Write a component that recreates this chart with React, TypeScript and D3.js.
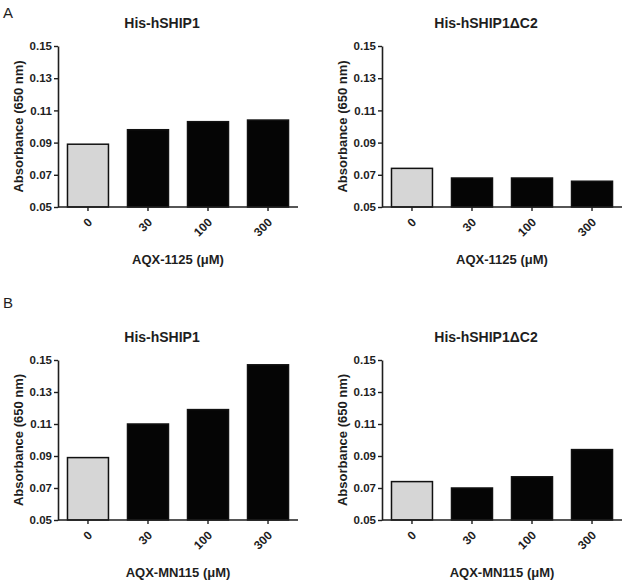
import * as d3 from 'd3';
import { useEffect, useRef } from 'react';

const doses = ['0', '30', '100', '300'];
const yTicks = [0.05, 0.07, 0.09, 0.11, 0.13, 0.15];

// absorbance at 650 nm
const aqx1125Full = [0.089, 0.098, 0.103, 0.104];
const aqx1125DeltaC2 = [0.074, 0.068, 0.068, 0.066];
const mn115Full = [0.089, 0.110, 0.119, 0.147];
const mn115DeltaC2 = [0.074, 0.070, 0.077, 0.094];

const titleFull = 'His-hSHIP1';
const titleDelta = 'His-hSHIP1\u0394C2';
const yLabel = 'Absorbance (650 nm)';
const xLabelA = 'AQX-1125 (\u03bcM)';
const xLabelB = 'AQX-MN115 (\u03bcM)';

const W = 629;
const H = 585;
const FONT = '"Liberation Sans", Arial, sans-serif';
const INK = '#1e1e1e';

const panels = [
    { x0: 58, top: 46, bottom: 207, values: aqx1125Full, title: titleFull, xLabel: xLabelA },
    { x0: 382, top: 46, bottom: 207, values: aqx1125DeltaC2, title: titleDelta, xLabel: xLabelA },
    { x0: 58, top: 360, bottom: 520, values: mn115Full, title: titleFull, xLabel: xLabelB },
    { x0: 382, top: 360, bottom: 520, values: mn115DeltaC2, title: titleDelta, xLabel: xLabelB },
];

export default function App() {
    const svgRef = useRef(null);

    useEffect(() => {
        if (!svgRef.current) {
            return;
        }
        const svg = d3.select(svgRef.current);
        svg.selectAll('*').remove();
        svg.append('rect').attr('width', W).attr('height', H).attr('fill', '#fff');

        svg.append('text')
            .attr('x', 3)
            .attr('y', 18)
            .attr('font-family', FONT)
            .attr('font-size', '15px')
            .attr('fill', INK)
            .text('A');
        svg.append('text')
            .attr('x', 3)
            .attr('y', 308)
            .attr('font-family', FONT)
            .attr('font-size', '15px')
            .attr('fill', INK)
            .text('B');

        panels.forEach((p) => {
            const axisW = 240;
            const x = d3
                .scaleBand()
                .domain(doses)
                .range([p.x0, p.x0 + axisW])
                .paddingInner(0.317)
                .paddingOuter(0.158);
            const y = d3.scaleLinear().domain([0.05, 0.15]).range([p.bottom, p.top]);

            const g = svg.append('g');

            g.selectAll('rect.bar')
                .data(p.values)
                .join('rect')
                .attr('class', 'bar')
                .attr('x', (_, i) => x(doses[i]))
                .attr('y', (d) => y(d))
                .attr('width', x.bandwidth())
                .attr('height', (d) => y(0.05) - y(d))
                .attr('fill', (_, i) => (i === 0 ? '#d6d6d6' : '#050505'))
                .attr('stroke', '#111')
                .attr('stroke-width', 1.5);

            // y axis
            const yAxis = g
                .append('g')
                .attr('transform', `translate(${p.x0},0)`)
                .call(
                    d3
                        .axisLeft(y)
                        .tickValues(yTicks)
                        .tickSize(4)
                        .tickSizeOuter(0)
                        .tickPadding(2)
                        .tickFormat(d3.format('.2f'))
                );
            yAxis.select('.domain').attr('stroke', INK).attr('stroke-width', 1.6);
            yAxis.selectAll('line').attr('stroke', INK).attr('stroke-width', 1.4);
            yAxis
                .selectAll('text')
                .attr('font-family', FONT)
                .attr('font-size', '11.5px')
                .attr('font-weight', 700)
                .attr('fill', INK);

            // x axis
            const xAxis = g
                .append('g')
                .attr('transform', `translate(0,${p.bottom})`)
                .call(d3.axisBottom(x).tickSize(4).tickSizeOuter(0));
            xAxis
                .select('.domain')
                .attr('d', `M${p.x0},0H${p.x0 + axisW}`)
                .attr('stroke', INK)
                .attr('stroke-width', 1.6);
            xAxis.selectAll('line').attr('stroke', INK).attr('stroke-width', 1.4);
            xAxis
                .selectAll('text')
                .attr('font-family', FONT)
                .attr('font-size', '12px')
                .attr('font-weight', 700)
                .attr('fill', INK)
                .attr('dy', null)
                .attr('y', null)
                .attr('transform', 'translate(5,16) rotate(-45)')
                .style('text-anchor', 'end');

            g.append('text')
                .attr('x', p.x0 + 104)
                .attr('y', p.top - 18)
                .attr('text-anchor', 'middle')
                .attr('font-family', FONT)
                .attr('font-size', '14px')
                .attr('font-weight', 700)
                .attr('fill', INK)
                .text(p.title);

            g.append('text')
                .attr('transform', `translate(${p.x0 - 35},${(p.top + p.bottom) / 2}) rotate(-90)`)
                .attr('text-anchor', 'middle')
                .attr('font-family', FONT)
                .attr('font-size', '13px')
                .attr('font-weight', 700)
                .attr('fill', INK)
                .text(yLabel);

            g.append('text')
                .attr('x', p.x0 + axisW / 2)
                .attr('y', p.bottom + 57)
                .attr('text-anchor', 'middle')
                .attr('font-family', FONT)
                .attr('font-size', '13px')
                .attr('font-weight', 700)
                .attr('fill', INK)
                .text(p.xLabel);
        });
    }, []);

    return (
        <svg
            ref={svgRef}
            width={W}
            height={H}
            style={{ position: 'absolute', left: 0, top: 0, display: 'block' }}
        />
    );
}
